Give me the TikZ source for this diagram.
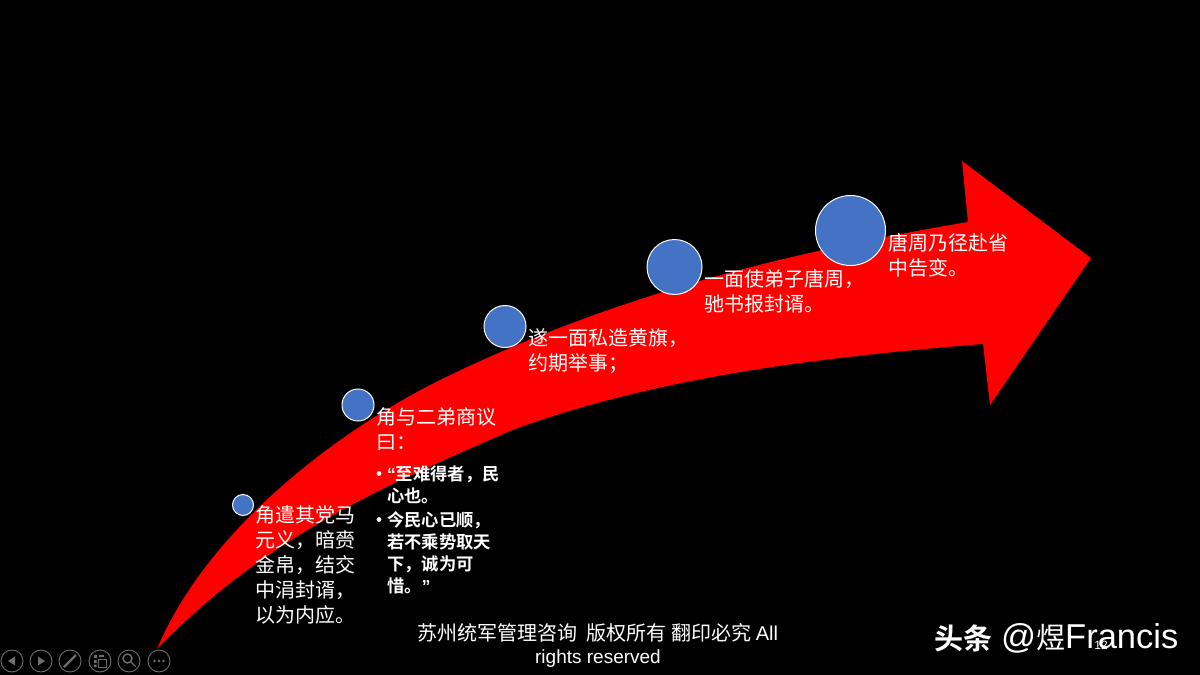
\documentclass[tikz,border=0pt]{standalone}
\usepackage{fontspec}
\setmainfont{Liberation Sans}
\newfontfamily\cjk{Noto Sans CJK SC}
\newfontfamily\cjkb{Noto Sans CJK SC Bold}
\tikzset{
 dot/.style={circle,draw=white,line width=1pt,fill=dotblue,inner sep=0pt},
 body/.style={anchor=north west,inner sep=0pt,text=white,font=\cjk\fontsize{20}{25}\selectfont,align=left},
 bul/.style={anchor=north west,inner sep=0pt,text=white,font=\cjkb\fontsize{17.3}{22}\selectfont,align=left},
 btn/.style={circle,draw=btngray,line width=0.9pt,minimum size=22pt,inner sep=0pt},
 btnmark/.style={fill=btngray,draw=none},
 btnline/.style={draw=btngray,line width=1pt}
}
\definecolor{dotblue}{HTML}{4472C4}
\definecolor{btngray}{HTML}{6E6E6E}
\begin{document}
\begin{tikzpicture}[x=1pt,y=-1pt]
\useasboundingbox (0,0) rectangle (1200,675);
\fill[black] (0,0) rectangle (1200,675);
% arrow
\fill[red] (157,649) .. controls (205,535) and (325,440) .. (430,385)
  .. controls (610,295) and (790,252) .. (968,222)
  -- (962,161) -- (1091,258) -- (990,405) -- (983,344)
  .. controls (823,357) and (660,376) .. (512,430)
  .. controls (395,482) and (270,532) .. (157,649) -- cycle;
% circles
\node[dot,minimum size=21pt] (c1) at (243,505) {};
\node[dot,minimum size=32pt] (c2) at (358,405) {};
\node[dot,minimum size=42pt] (c3) at (505,326.5) {};
\node[dot,minimum size=55pt] (c4) at (674.5,267) {};
\node[dot,minimum size=70pt] (c5) at (850.5,230.5) {};
% text
\node[body] (t1) at (255,505) {角遣其党马\\元义，暗赍\\金帛，结交\\中涓封谞，\\以为内应。};
\node[body] (t2) at (376,407) {角与二弟商议\\曰：};
\node[body] (t3) at (528,328) {遂一面私造黄旗，\\约期举事；};
\node[body] (t4) at (704,269) {一面使弟子唐周，\\驰书报封谞。};
\node[body] (t5) at (888,233) {唐周乃径赴省\\中告变。};
\node[bul] (b1) at (387,465.5) {{\fontspec{Liberation Sans}\bfseries “}至难得者，民\\心也。};
\node[bul] (b2) at (387,511.5) {今民心已顺，\\若不乘势取天\\下，诚为可\\惜。{\fontspec{Liberation Sans}\bfseries ”}};
\fill[white] (379,473.5) circle (2.4pt) (379,519.5) circle (2.4pt);
\node[anchor=north,inner sep=0pt,text=white,font=\cjk\fontsize{20}{23}\selectfont,align=center] (foot) at (598,623)
  {苏州统军管理咨询\ \ 版权所有 翻印必究 {\fontspec{Liberation Sans}All}\\{\fontspec{Liberation Sans}\fontsize{19}{23}\selectfont rights reserved}};
% watermark
\node[anchor=west,inner sep=0pt,text=white,font=\cjkb\fontsize{29}{30}\selectfont] (w1) at (934,638) {头条};
\node[anchor=west,inner sep=0pt,text=white,font=\fontsize{34.5}{35}\selectfont] (w2) at (1001,638) {@{\cjk\fontsize{29}{30}\selectfont 煜}Francis};
\node[inner sep=0pt,text=white,font=\fontsize{12}{12}\selectfont] (pg) at (1101,645) {12};
% toolbar
\node[btn] (p1) at (12,661) {};
\node[btn] (p2) at (41,661) {};
\node[btn] (p3) at (70,661) {};
\node[btn] (p4) at (100,661) {};
\node[btn] (p5) at (129,661) {};
\node[btn] (p6) at (159,661) {};
\fill[btnmark] (8,661) -- (15,656.5) -- (15,665.5) -- cycle;
\fill[btnmark] (45,661) -- (38,656.5) -- (38,665.5) -- cycle;
\draw[btnline,line width=2.2pt] (64,667) -- (76,655);
\draw[btnline] (98,659) rectangle (106,667);
\fill[btnmark] (94,655) rectangle (97,658) (99,655) rectangle (104,657) (94,660) rectangle (96.5,663) (94,664.5) rectangle (96.5,667);
\draw[btnline,line width=1.4pt] (127.5,658.5) circle (4.5pt) (131,662) -- (135.5,666.5);
\fill[btnmark] (154.5,661) circle (1.4pt) (159,661) circle (1.4pt) (163.5,661) circle (1.4pt);
\end{tikzpicture}
\end{document}
